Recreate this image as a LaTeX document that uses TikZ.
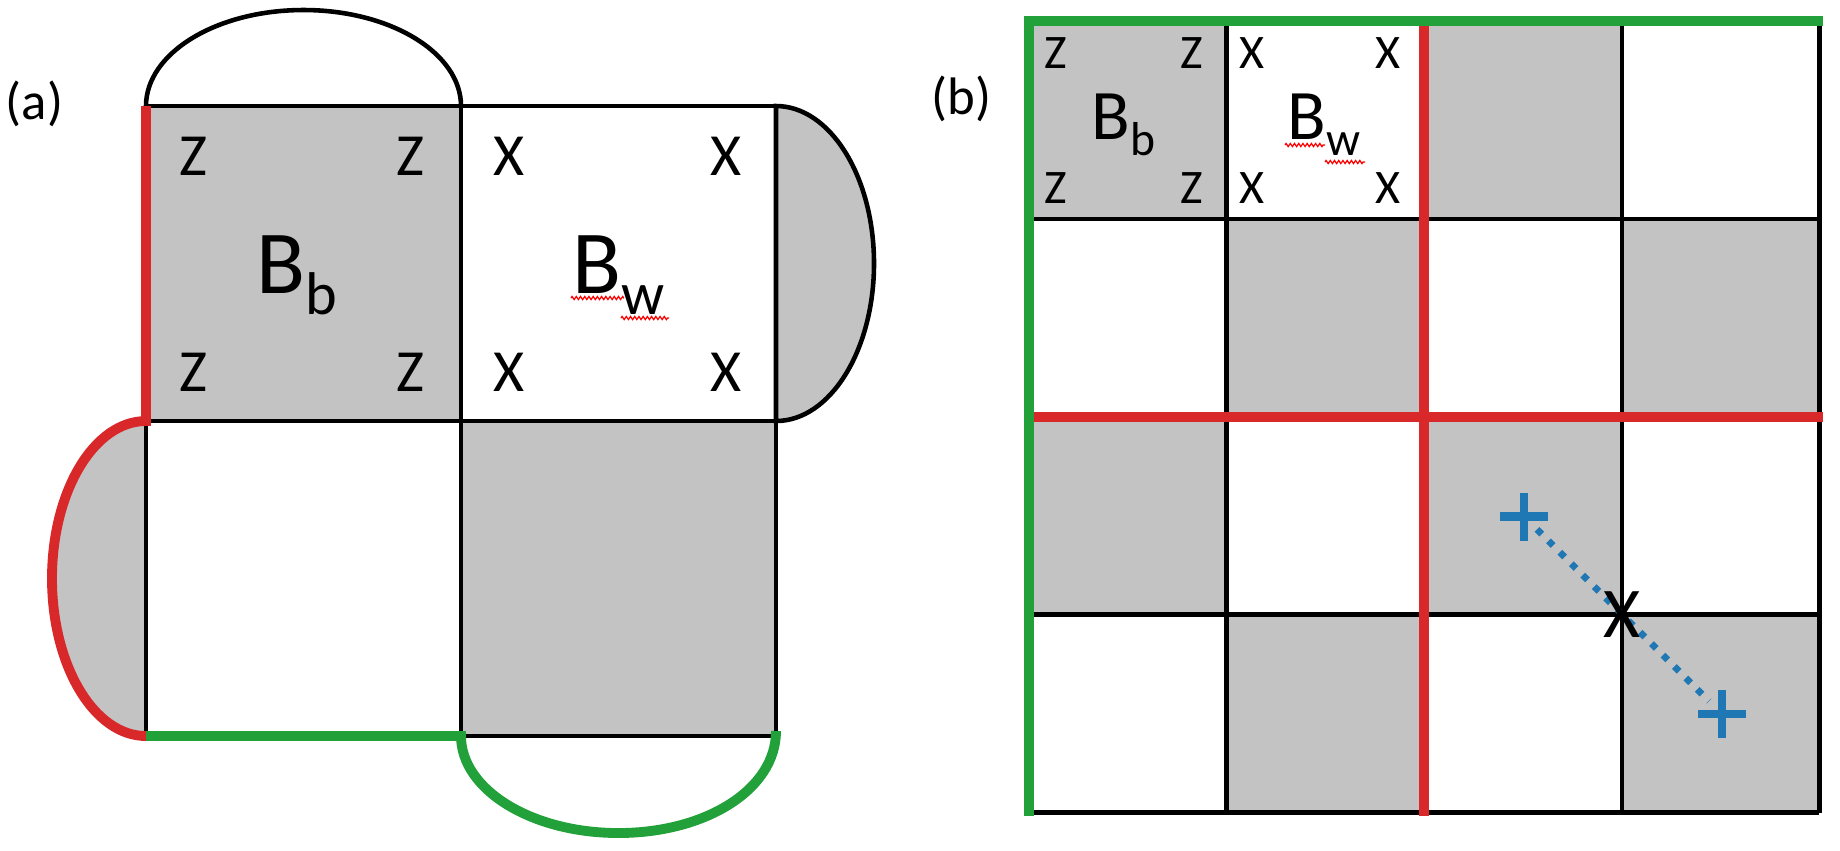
\documentclass[tikz,border=0pt]{standalone}
\usepackage{fontspec}
\setmainfont{Carlito}
\usetikzlibrary{decorations.pathmorphing}

\definecolor{cellgray}{RGB}{195,195,195}
\definecolor{cutred}{RGB}{216,40,41}
\definecolor{cutgreen}{RGB}{34,160,58}
\definecolor{markblue}{RGB}{31,119,180}

\newcommand{\lowsub}[1]{\raisebox{-0.235em}{\scalebox{0.67}{#1}}}

\begin{document}
\begin{tikzpicture}[x=0.01cm, y=-0.01cm,
    gridline/.style={draw=black, line width=1.3pt},
    redcut/.style={cutred, line width=2.8pt},
    greencut/.style={cutgreen, line width=2.8pt},
    squiggle/.style={red, line width=0.35pt, decorate,
        decoration={zigzag, segment length=1.2pt, amplitude=0.45pt}},
    bluemark/.style={markblue, line width=2.3pt},
    bluedots/.style={markblue, line width=1.9pt, dash pattern=on 1.9pt off 2.7pt,
        shorten <=5.2pt, shorten >=5.2pt},
    stabA/.style={font=\fontsize{17}{20}\selectfont, inner sep=0pt},
    stabB/.style={font=\fontsize{13.7}{16}\selectfont, inner sep=0pt},
    blockA/.style={font=\fontsize{25.6}{30}\selectfont, inner sep=0pt, anchor=base},
    blockB/.style={font=\fontsize{20.2}{24}\selectfont, inner sep=0pt, anchor=base},
    panel/.style={font=\fontsize{15}{18}\selectfont, inner sep=0pt},
    bigx/.style={font=\fontsize{20.3}{24}\selectfont, inner sep=0pt}]

    \useasboundingbox (0,0) rectangle (1840,850);

    % (a)
    \fill[cellgray] (146,106) rectangle (461,421);
    \fill[cellgray] (461,421) rectangle (776,736);
    \filldraw[gridline, fill=cellgray] (776,106) .. controls (830,106) and (874,176.5) .. (874,263.5)
        .. controls (874,350.5) and (830,421) .. (776,421) -- cycle;
    \fill[cellgray] (146,421) .. controls (94,421) and (52,491.5) .. (52,578.5)
        .. controls (52,665.5) and (94,736) .. (146,736) -- cycle;
    \draw[gridline] (146,106) .. controls (146,53) and (216.5,10) .. (303.5,10)
        .. controls (390.5,10) and (461,53) .. (461,106);

    \draw[gridline] (146,106) -- (776,106);
    \draw[gridline] (146,421) -- (776,421);
    \draw[gridline] (461,736) -- (776,736);
    \draw[gridline] (461,106) -- (461,736);
    \draw[gridline] (776,106) -- (776,736);
    \draw[gridline] (146,421) -- (146,736);

    \draw[redcut] (146,106) -- (146,421) .. controls (94,421) and (52,491.5) .. (52,578.5)
        .. controls (52,665.5) and (94,736) .. (146,736);
    \draw[greencut] (146,736) -- (461,736) .. controls (461,789.6) and (531.5,833) .. (618.5,833)
        .. controls (705.5,833) and (776,789.6) .. (776,731);

    \node[panel] (lbla) at (34.5,103.5) {(a)};
    \foreach \px/\py [count=\n] in {193/156.5, 410/156.5, 193/372.5, 410/372.5}
        \node[stabA] (za\n) at (\px,\py) {Z};
    \foreach \px/\py [count=\n] in {509.5/156.5, 726.5/156.5, 509.5/372.5, 726.5/372.5}
        \node[stabA] (xa\n) at (\px,\py) {X};
    \node[blockA] (bba) at (296.5,293) {B\lowsub{b}};
    \node[blockA] (bwa) at (618.5,293) {B\lowsub{w}};
    \draw[squiggle] (571,298) -- (624,298);
    \draw[squiggle] (621,318) -- (669,318);

    % (b)
    \foreach \i in {0,...,3}
        \foreach \j in {0,...,3} {
            \pgfmathtruncatemacro{\parity}{mod(\i+\j,2)}
            \ifnum\parity=0
                \fill[cellgray] (1029+197.6*\i,21+197.9*\j) rectangle ++(197.6,197.9);
            \fi
        }
    \foreach \k in {1,...,4} {
        \draw[gridline] (1029+197.6*\k,21) -- (1029+197.6*\k,812.6);
        \draw[gridline] (1029,21+197.9*\k) -- (1819.4,21+197.9*\k);
    }
    \draw[redcut] (1424.2,21) -- (1424.2,816);
    \draw[redcut] (1029,416.8) -- (1823,416.8);
    \draw[greencut] (1029,816) -- (1029,21) -- (1823,21);

    \node[panel] (lblb) at (961.5,98.5) {(b)};
    \foreach \px/\py [count=\n] in {1055.5/53, 1192/53, 1055.5/188, 1192/188}
        \node[stabB] (zb\n) at (\px,\py) {Z};
    \foreach \px/\py [count=\n] in {1252/53, 1388/53, 1252/188, 1388/188}
        \node[stabB] (xb\n) at (\px,\py) {X};
    \node[blockB] (bbb) at (1123.5,139) {B\lowsub{b}};
    \node[blockB] (bwb) at (1324,139) {B\lowsub{w}};
    \draw[squiggle] (1285,145) -- (1325,145);
    \draw[squiggle] (1325,162) -- (1365,162);

    \coordinate (pa) at (1524,516.5);
    \coordinate (pb) at (1722,714);
    \draw[bluedots] (pa) -- (pb);
    \draw[bluemark] (pa) +(-24,0) -- +(24,0) (pa) +(0,-24) -- +(0,24);
    \draw[bluemark] (pb) +(-24,0) -- +(24,0) (pb) +(0,-24) -- +(0,24);
    \node[bigx] (cross) at (1622,615) {X};
\end{tikzpicture}
\end{document}
